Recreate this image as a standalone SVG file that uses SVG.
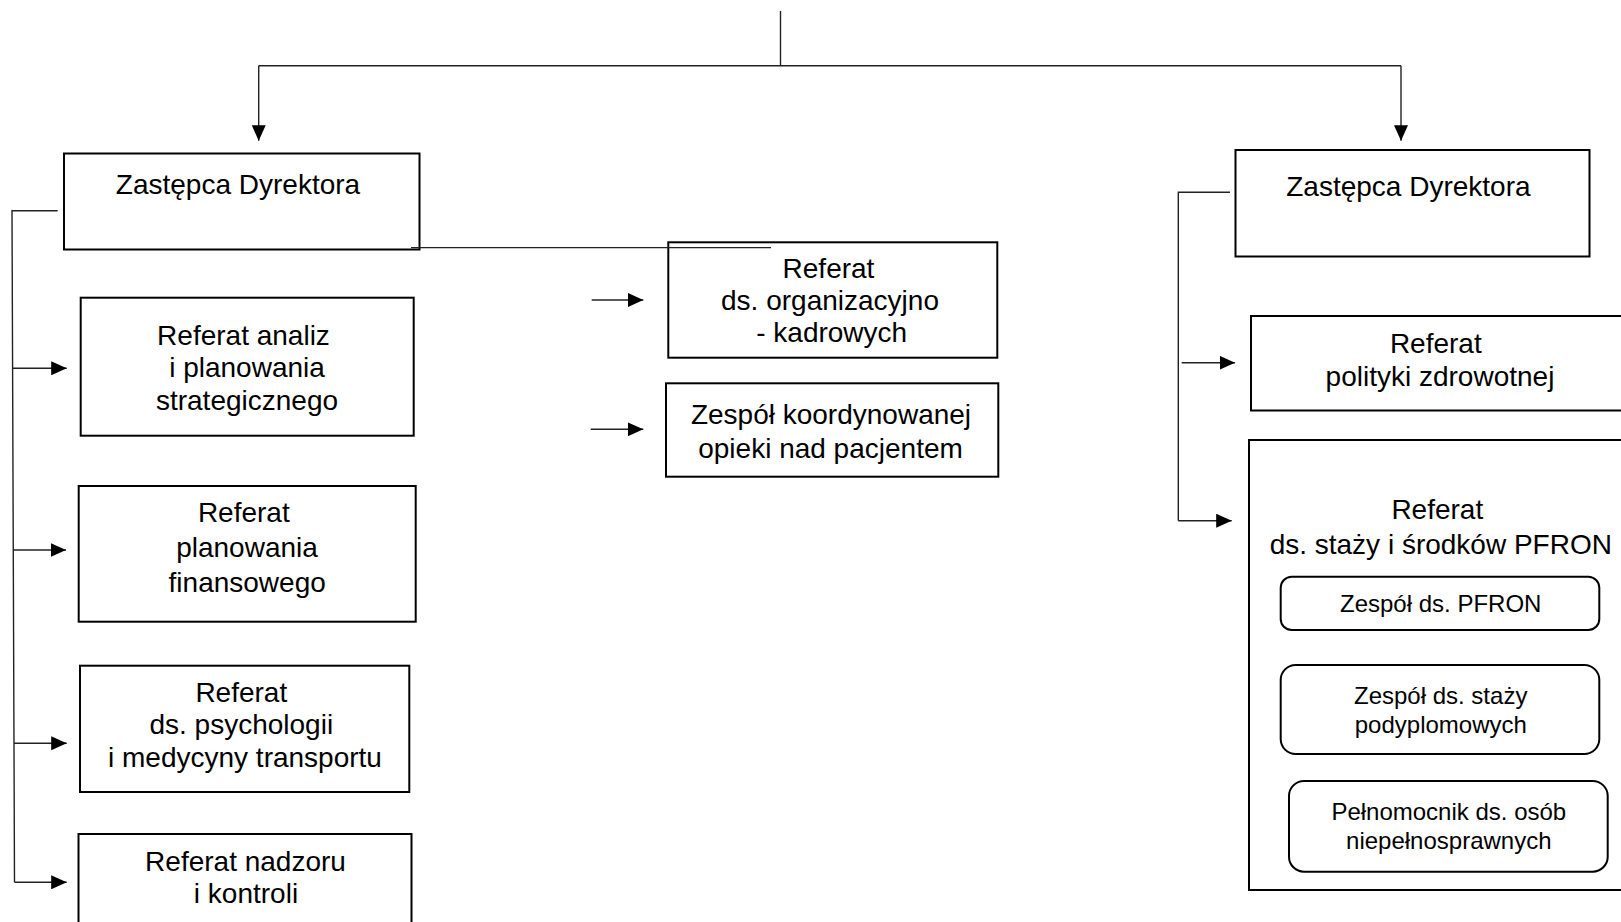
<svg xmlns="http://www.w3.org/2000/svg" width="1621" height="922" viewBox="0 0 1621 922">
<style>
.box{fill:#fff;stroke:#000;stroke-width:2}
.rbox{fill:#fff;stroke:#000;stroke-width:2}
.ln{fill:none;stroke:#222;stroke-width:1.4}
.t{font-family:"Liberation Sans",Arial,sans-serif;font-size:28px;fill:#000;text-anchor:middle}
.s{font-family:"Liberation Sans",Arial,sans-serif;font-size:24px;fill:#000;text-anchor:middle}
</style>
<defs>
<marker id="ah" markerUnits="userSpaceOnUse" markerWidth="16" markerHeight="14" refX="15.5" refY="7" orient="auto">
<path d="M0,0 L15.5,7 L0,14 z" fill="#000"/>
</marker>
</defs>
<rect width="1621" height="922" fill="#fff"/>
<g id="zd-left">
<rect class="box" x="64" y="153.5" width="355.5" height="96"/>
<text class="t" x="238" y="194">Zastępca Dyrektora</text>
</g>
<g id="zd-right">
<rect class="box" x="1235.5" y="150" width="354" height="106.5"/>
<text class="t" x="1408.4" y="196">Zastępca Dyrektora</text>
</g>
<g id="ref-analiz">
<rect class="box" x="80.7" y="297.7" width="333" height="138"/>
<text class="t" x="243.5" y="345">Referat analiz</text>
<text class="t" x="247" y="377.3">i planowania</text>
<text class="t" x="247" y="410">strategicznego</text>
</g>
<g id="ref-finanse">
<rect class="box" x="78.7" y="486" width="337" height="135.7"/>
<text class="t" x="243.8" y="521.7">Referat</text>
<text class="t" x="247" y="556.7">planowania</text>
<text class="t" x="247.2" y="591.7">finansowego</text>
</g>
<g id="ref-psych">
<rect class="box" x="80" y="665.7" width="329.3" height="126.3"/>
<text class="t" x="241.3" y="701.7">Referat</text>
<text class="t" x="241.3" y="733.5">ds. psychologii</text>
<text class="t" x="245" y="767">i medycyny transportu</text>
</g>
<g id="ref-nadzor">
<rect class="box" x="78.5" y="834" width="333" height="100"/>
<text class="t" x="245.5" y="871">Referat nadzoru</text>
<text class="t" x="246" y="902.5">i kontroli</text>
</g>
<g id="ref-org">
<rect class="box" x="668.3" y="242.3" width="329" height="115.4"/>
<text class="t" x="828.5" y="278">Referat</text>
<text class="t" x="830" y="309.7">ds. organizacyjno</text>
<text class="t" x="831.7" y="341.5">- kadrowych</text>
</g>
<g id="zespol-koord">
<rect class="box" x="666" y="383.3" width="332.3" height="93.4"/>
<text class="t" x="831" y="424.3">Zespół koordynowanej</text>
<text class="t" x="830.5" y="457.5">opieki nad pacjentem</text>
</g>
<g id="ref-polityki">
<rect class="box" x="1251" y="316" width="400" height="94.5"/>
<text class="t" x="1435.8" y="352.7">Referat</text>
<text class="t" x="1440" y="386">polityki zdrowotnej</text>
</g>
<g id="ref-staze">
<rect class="box" x="1249" y="440" width="400" height="450"/>
<text class="t" x="1437.3" y="518.8">Referat</text>
<text class="t" x="1440.8" y="553.8">ds. staży i środków PFRON</text>
</g>
<g id="zespol-pfron">
<rect class="rbox" x="1280.7" y="576.7" width="318.6" height="53.3" rx="11" ry="11"/>
<text class="s" x="1440.7" y="611.5">Zespół ds. PFRON</text>
</g>
<g id="zespol-staze">
<rect class="rbox" x="1280.7" y="665" width="318.6" height="89" rx="15" ry="15"/>
<text class="s" x="1440.7" y="704">Zespół ds. staży</text>
<text class="s" x="1440.8" y="733.3">podyplomowych</text>
</g>
<g id="pelnomocnik">
<rect class="rbox" x="1289" y="781" width="318.7" height="90.7" rx="15" ry="15"/>
<text class="s" x="1448.8" y="820">Pełnomocnik ds. osób</text>
<text class="s" x="1448.8" y="849.3">niepełnosprawnych</text>
</g>
<g id="connectors">
<path class="ln" d="M780.5,11 V65.7"/>
<path class="ln" d="M258.7,65.7 H1401"/>
<path class="ln" d="M258.7,65.7 V140.7" marker-end="url(#ah)"/>
<path class="ln" d="M1401,65.7 V140.7" marker-end="url(#ah)"/>
<path class="ln" d="M57.7,210.7 H12 L14.5,882.3"/>
<path class="ln" d="M13,368.3 H66.7" marker-end="url(#ah)"/>
<path class="ln" d="M13.5,550 H66" marker-end="url(#ah)"/>
<path class="ln" d="M14,743.3 H66.7" marker-end="url(#ah)"/>
<path class="ln" d="M14.5,882.3 H66.7" marker-end="url(#ah)"/>
<path class="ln" d="M411,247.6 H771"/>
<path class="ln" d="M591.7,300 H643.3" marker-end="url(#ah)"/>
<path class="ln" d="M590.7,429.3 H643.3" marker-end="url(#ah)"/>
<path class="ln" d="M1230,192.3 H1178.3 V520.7"/>
<path class="ln" d="M1181.7,362.7 H1235" marker-end="url(#ah)"/>
<path class="ln" d="M1178.3,520.7 H1231.7" marker-end="url(#ah)"/>
</g>
</svg>
